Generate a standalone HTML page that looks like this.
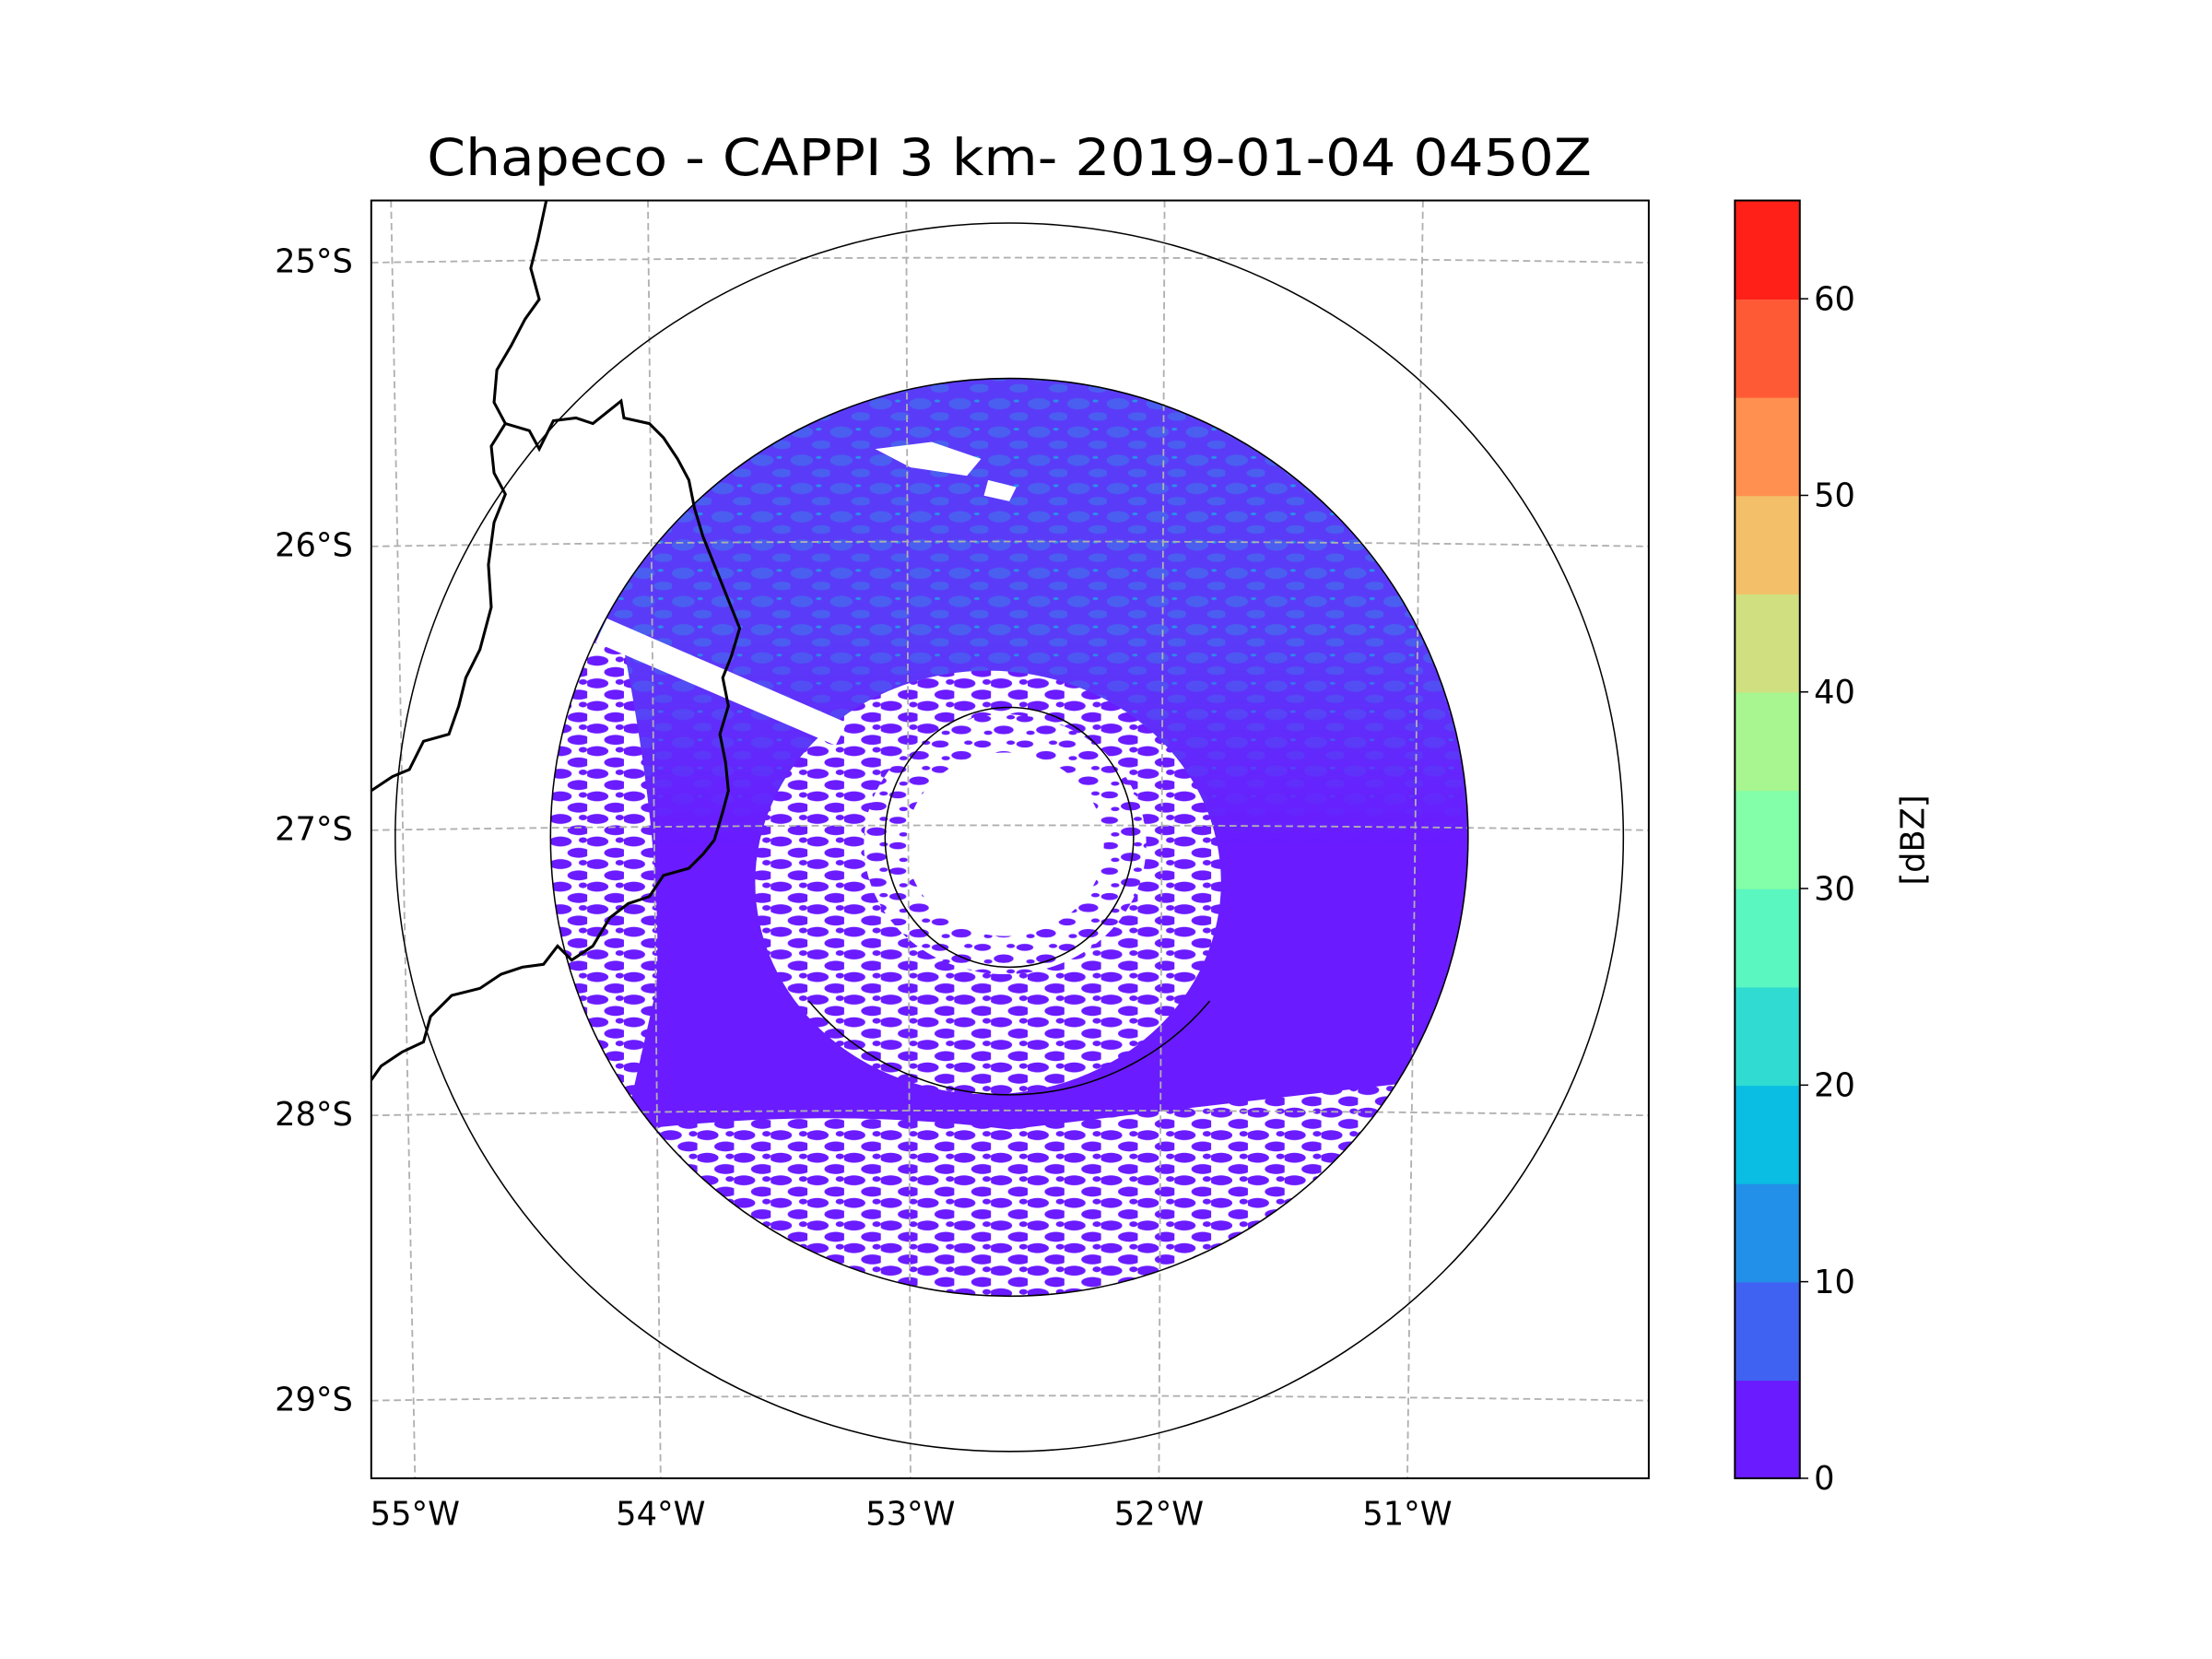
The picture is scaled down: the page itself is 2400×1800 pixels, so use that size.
<!DOCTYPE html>
<html><head><meta charset="utf-8"><style>
html,body{margin:0;padding:0;background:#fff}
svg{display:block}
text{font-family:"DejaVu Sans","Liberation Sans",sans-serif;fill:#000}
</style></head><body>
<svg id="fig" width="2400" height="1800" viewBox="0 0 1567 1175" preserveAspectRatio="none" xmlns="http://www.w3.org/2000/svg">
<defs>
<clipPath id="axclip"><rect x="263" y="142" width="905" height="905"/></clipPath>
<clipPath id="dataclip"><ellipse cx="715" cy="593" rx="325" ry="325"/></clipPath>
<pattern id="speck" width="30" height="18" patternUnits="userSpaceOnUse">
<rect width="30" height="18" fill="#fff"/>
<ellipse cx="6" cy="5" rx="6" ry="2.5" fill="#6a1bff"/>
<ellipse cx="21" cy="13" rx="7" ry="3" fill="#6a1bff"/>
<ellipse cx="26" cy="4" rx="3" ry="1.5" fill="#6a1bff"/>
<ellipse cx="10" cy="15" rx="3" ry="1.5" fill="#6a1bff"/>
</pattern>
<pattern id="speck2" width="26" height="16" patternUnits="userSpaceOnUse">
<rect width="26" height="16" fill="#fff"/>
<ellipse cx="7" cy="4" rx="8" ry="3.5" fill="#6a1bff"/>
<ellipse cx="20" cy="12" rx="8" ry="3.5" fill="#6a1bff"/>
<ellipse cx="23" cy="3" rx="3" ry="2" fill="#6a1bff"/>
</pattern>
<pattern id="blue" width="28" height="20" patternUnits="userSpaceOnUse">
<rect width="28" height="20" fill="#5a3cf8"/>
<ellipse cx="8" cy="6" rx="8" ry="4" fill="#4a5ff0"/>
<ellipse cx="22" cy="15" rx="7" ry="3" fill="#4a5ff0"/>
<ellipse cx="20" cy="4" rx="2" ry="1" fill="#2a90e8"/>
</pattern>
<linearGradient id="fadeG" x1="0" y1="0" x2="0" y2="1">
<stop offset="0" stop-color="#fff"/><stop offset="0.55" stop-color="#fff"/><stop offset="1" stop-color="#000"/>
</linearGradient>
<mask id="fade"><rect x="380" y="268" width="680" height="330" fill="url(#fadeG)"/></mask>
</defs>

<rect width="1567" height="1175" fill="#fff"/>
<text x="715" y="124" font-size="36" text-anchor="middle" textLength="825" lengthAdjust="spacingAndGlyphs">Chapeco - CAPPI 3 km- 2019-01-04 0450Z</text>

<g id="radar" clip-path="url(#dataclip)">
<rect x="380" y="260" width="680" height="670" fill="#6a1bff"/>
<rect x="380" y="268" width="680" height="330" fill="url(#blue)" mask="url(#fade)"/>
<path d="M380 810 Q560 780 715 800 Q880 780 1060 760 L1060 930 L380 930 Z" fill="url(#speck2)"/>
<path d="M380 450 L440 450 Q470 600 465 700 L440 810 L380 810 Z" fill="url(#speck2)"/>
<ellipse cx="700" cy="625" rx="165" ry="150" fill="url(#speck2)"/>
<ellipse cx="712" cy="598" rx="100" ry="92" fill="url(#speck)"/>
<ellipse cx="712" cy="598" rx="70" ry="65" fill="#fff"/>
<path d="M430 438 L600 512 L592 528 L422 455 Z" fill="#fff"/>
<path d="M620 318 l40 -5 l35 12 l-10 12 l-40 -6 z M700 340 l20 5 l-5 10 l-18 -4 z" fill="#fff"/>
</g>

<g clip-path="url(#axclip)" fill="none">
<g id="gridlines" stroke="#b0b0b0" stroke-width="1.2" stroke-dasharray="5,3"></g>
<ellipse cx="715" cy="593" rx="435" ry="435" stroke="#000" stroke-width="1"/>
<ellipse cx="715" cy="593" rx="325" ry="325" stroke="#000" stroke-width="1"/>
<ellipse cx="715" cy="593" rx="88" ry="92" stroke="#000" stroke-width="1"/>
<path d="M573 709 A185 185 0 0 0 857 709" stroke="#000" stroke-width="1"/>
<polyline stroke="#000" stroke-width="2" points="387,142 381,170 376,190 382,212 372,226 362,245 352,262 350,285 358,300 348,316 350,335 358,350 350,370 346,400 348,430 340,460 330,480 325,500 318,520 300,525 290,545 278,550 263,560"/>
<polyline stroke="#000" stroke-width="2" points="358,300 375,305 382,318 392,298 408,296 420,300 430,292 440,284 442,296 460,300 470,310 480,325 488,340 492,360 498,380 508,405 516,425 524,445 518,465 512,480 516,500 510,520 514,540 516,560 512,575 506,595 498,605 488,615 470,620 460,635 445,640 432,650 420,670 405,680 395,670 385,683 370,685 355,690 340,700 320,705 305,720 300,738 285,745 270,755 263,765"/>
</g>
<rect x="263" y="142" width="905" height="905" fill="none" stroke="#000" stroke-width="1.3"/>
<g id="lonlabels"></g>
<g id="latlabels"></g>

<g id="colorbar"></g>
<text transform="translate(1363,595) rotate(-90)" font-size="23" text-anchor="middle">[dBZ]</text>
</svg>
<script>
var NS='http://www.w3.org/2000/svg';
var cbLevels=[0,5,10,15,20,25,30,35,40,45,50,55,60,65];
var cbColors=['#6a1bff','#4062f2','#2290e8','#0abde2','#30dcd2','#5af7c0','#82ffa8','#a8f690','#d0e080','#f3bf68','#ff9050','#ff5a36','#ff2018'];
var cbTicks=[0,10,20,30,40,50,60];
var lonLabels=['55°W','54°W','53°W','52°W','51°W'];
var lonTop=[277,459,642,825,1008];
var lonBot=[294,468,645,821,997];
var latLabels=['25°S','26°S','27°S','28°S','29°S'];
var latY=[185,386,587,789,991];
function mk(t,a,p){var e=document.createElementNS(NS,t);for(var k in a)e.setAttribute(k,a[k]);p.appendChild(e);return e;}
var cbTop=142,cbBot=1047,cbX=1229,cbW=46;
function cy(v){return cbBot-(v-cbLevels[0])/(cbLevels[cbLevels.length-1]-cbLevels[0])*(cbBot-cbTop);}
var cb=document.getElementById('colorbar');
for(var i=0;i<cbColors.length;i++){
 var r=mk('rect',{x:cbX,y:cy(cbLevels[i+1]),width:cbW,height:cy(cbLevels[i])-cy(cbLevels[i+1])+0.5,fill:cbColors[i]},cb);
 
 
}
mk('rect',{x:cbX,y:cbTop,width:cbW,height:cbBot-cbTop,fill:'none',stroke:'#000','stroke-width':1.3},cb);
cbTicks.forEach(function(v){
 var y=cy(v);
 mk('line',{x1:cbX+cbW,x2:cbX+cbW+6,y1:y,y2:y,stroke:'#000','stroke-width':1},cb);
 var t=mk('text',{x:cbX+cbW+10,y:y+8,'font-size':23},cb);t.textContent=v;
 
 
});
var g=document.getElementById('gridlines');
lonTop.forEach(function(x,i){mk('line',{x1:x,y1:142,x2:lonBot[i],y2:1047},g);});
latY.forEach(function(y){mk('path',{d:'M263 '+(y+1)+' Q715 '+(y-6)+' 1168 '+(y+1)},g);});
var ll=document.getElementById('lonlabels');
lonLabels.forEach(function(s,i){var t=mk('text',{x:lonBot[i],y:1080,'font-size':23,'text-anchor':'middle'},ll);t.textContent=s;
 
 });
var la=document.getElementById('latlabels');
latLabels.forEach(function(s,i){var t=mk('text',{x:250,y:latY[i]+8,'font-size':23,'text-anchor':'end'},la);t.textContent=s;
 
 });
</script>
</body></html>
